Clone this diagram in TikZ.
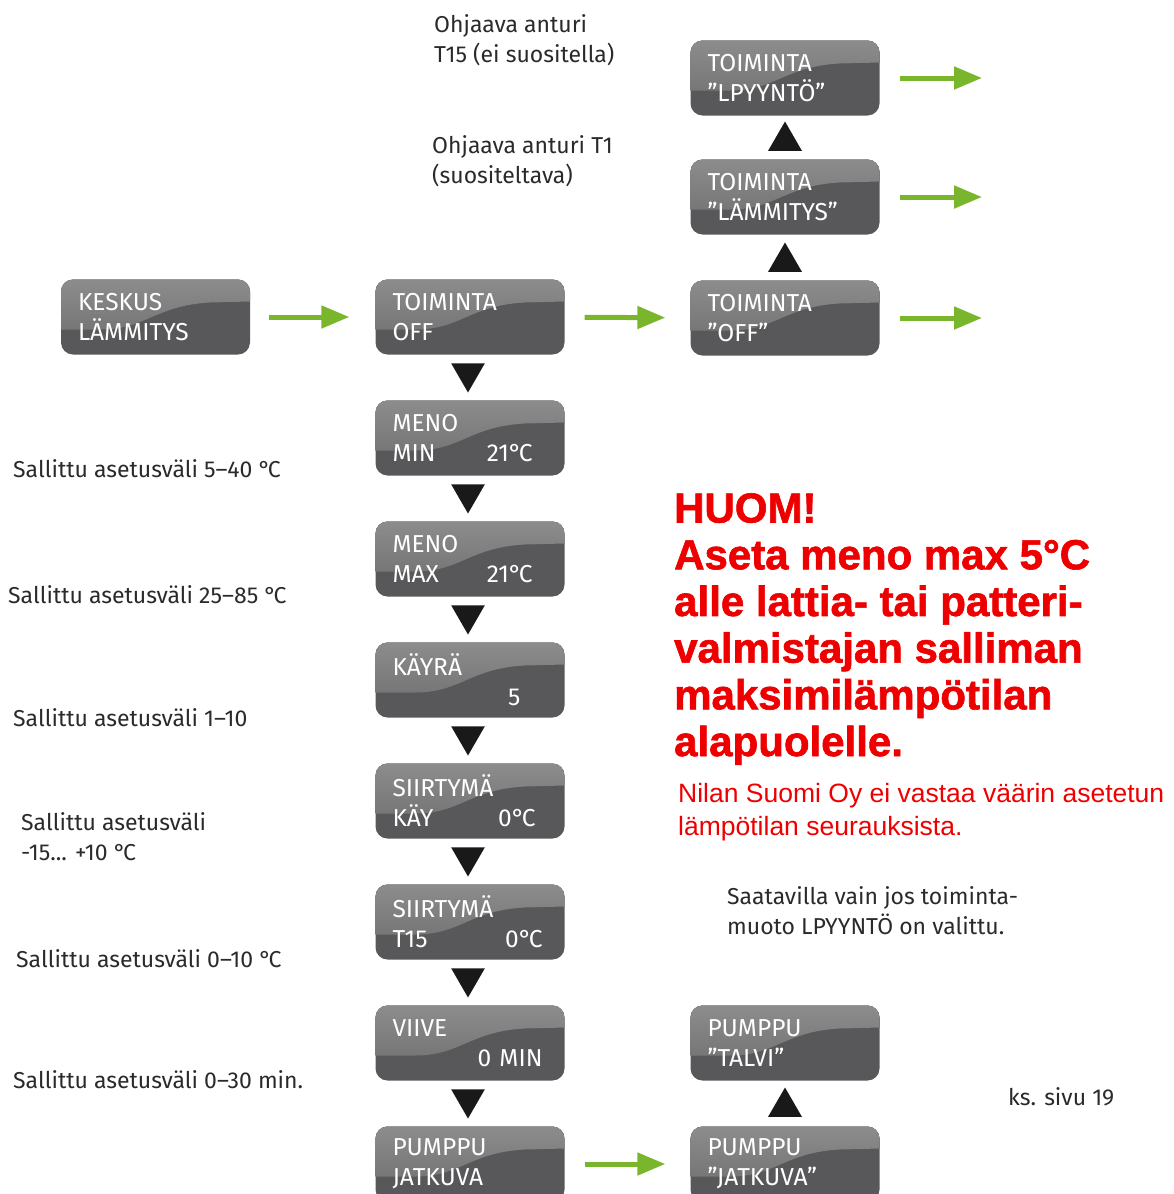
\documentclass[tikz,border=0pt]{standalone}
\usepackage{fontspec}
\IfFontExistsTF{FiraSans-Light.otf}{\setmainfont{FiraSans-Light.otf}}{\setmainfont{Fira Sans}}
\newfontfamily\arialfont{Liberation Sans}
\newfontfamily\heavyfont{Liberation Sans}[UprightFeatures={FakeBold=1.5}, BoldFeatures={FakeBold=1.5}]
\usetikzlibrary{arrows.meta,shapes.geometric}
\definecolor{panellight}{HTML}{8C8C8C}
\definecolor{panelmid}{HTML}{6C6C6D}
\definecolor{paneldark}{HTML}{58585A}
\definecolor{arrowgreen}{HTML}{7AB62B}
\definecolor{warnred}{HTML}{EE0000}
\definecolor{textgray}{HTML}{2A2A2A}
\newcommand{\dgc}{°\kern-0.12em C}
\tikzstyle{panel}=[rounded corners=12pt, fill=paneldark, minimum width=189pt, minimum height=75pt,
  inner xsep=17pt, inner ysep=2pt, text width=155pt, align=left, text=white,
  font=\fontsize{24.5}{30}\selectfont,
  path picture={\fill[sharp corners, top color=panellight, bottom color=panelmid]
    (path picture bounding box.north west) -- (path picture bounding box.north east)
    -- ([yshift=-22pt]path picture bounding box.north east)
    -- ([xshift=-40pt,yshift=-23pt]path picture bounding box.north east)
    .. controls ([xshift=-95pt,yshift=-26pt]path picture bounding box.north east)
    and ([xshift=85pt,yshift=-50pt]path picture bounding box.north west)
    .. ([xshift=40pt,yshift=-50pt]path picture bounding box.north west)
    -- ([yshift=-50pt]path picture bounding box.north west) -- cycle;}]
\tikzstyle{tridown}=[regular polygon, regular polygon sides=3, shape border rotate=180, fill=black!90, inner sep=0pt, minimum size=39pt]
\tikzstyle{triup}=[regular polygon, regular polygon sides=3, fill=black!90, inner sep=0pt, minimum size=39pt]
\tikzstyle{greenarrow}=[-{Triangle[length=28pt,width=22pt]}, line width=5pt, color=arrowgreen]
\tikzstyle{infotext}=[anchor=west, inner sep=0pt, align=left, text=textgray, font=\fontsize{23}{30}\selectfont]

\begin{document}
\begin{tikzpicture}[x=1pt, y=-1pt]
		   \useasboundingbox (0,0) rectangle (1173,1194);
		   \begin{scope}
			   % boxes
			   \node (keskus) at (155.5, 317) [panel] {KESKUS\\LÄMMITYS};
			   \node (toim) at (470, 317) [panel] {TOIMINTA\\OFF};
			   \node (off) at (785, 318) [panel] {TOIMINTA\\”OFF”};
			   \node (lamm) at (785, 197) [panel] {TOIMINTA\\”LÄMMITYS”};
			   \node (lpyy) at (785, 78) [panel] {TOIMINTA\\”LPYYNTÖ”};
			   \node (menomin) at (470, 438) [panel] {MENO\\MIN\hfill 21\dgc\hspace*{15pt}};
			   \node (menomax) at (470, 559) [panel] {MENO\\MAX\hfill 21\dgc\hspace*{15pt}};
			   \node (kayra) at (470, 680) [panel] {KÄYRÄ\\\hfill 5\hspace*{27pt}};
			   \node (skay) at (470, 801) [panel] {SIIRTYMÄ\\KÄY\hfill 0\dgc\hspace*{12pt}};
			   \node (st15) at (470, 922) [panel] {SIIRTYMÄ\\T15\hfill 0\dgc\hspace*{5pt}};
			   \node (viive) at (470, 1043) [panel] {VIIVE\\\hfill 0 MIN\hspace*{5pt}};
			   \node (pjat) at (470, 1164) [panel] {PUMPPU\\JATKUVA};
			   \node (ptalvi) at (785, 1043) [panel] {PUMPPU\\”TALVI”};
			   \node (pjat2) at (785, 1164) [panel] {PUMPPU\\”JATKUVA”};

			   % triangles
			   \node (t1) at (468, 373) [tridown] {};
			   \node (t2) at (468, 494) [tridown] {};
			   \node (t3) at (468, 615) [tridown] {};
			   \node (t4) at (468, 736) [tridown] {};
			   \node (t5) at (468, 857) [tridown] {};
			   \node (t6) at (468, 978) [tridown] {};
			   \node (t7) at (468, 1099) [tridown] {};
			   \node (u1) at (785, 141) [triup] {};
			   \node (u2) at (785, 262) [triup] {};
			   \node (u3) at (785, 1107) [triup] {};

			   % texts
			   \node (anturi15) at (434, 40) [infotext] {Ohjaava anturi\\T15 (ei suositella)};
			   \node (anturi1) at (432, 161) [infotext] {Ohjaava anturi T1\\(suositeltava)};
			   \node (s1) at (13, 469) [infotext] {Sallittu asetusväli 5–40 \dgc};
			   \node (s2) at (8, 595) [infotext] {Sallittu asetusväli 25–85 \dgc};
			   \node (s3) at (13, 718) [infotext] {Sallittu asetusväli 1–10};
			   \node (s4) at (21, 837) [infotext] {Sallittu asetusväli\\-15... +10 \dgc};
			   \node (s5) at (16, 959) [infotext] {Sallittu asetusväli 0–10 \dgc};
			   \node (s6) at (13, 1080) [infotext] {Sallittu asetusväli 0–30 min.};
			   \node (saat) at (727, 911) [infotext] {Saatavilla vain jos toiminta-\\muoto LPYYNTÖ on valittu.};
			   \node (sivu) at (1008, 1097) [infotext] {ks. sivu 19};
			   \node (huom) at (674, 629) [anchor=west, inner sep=0pt, align=left, text=warnred,
			     font=\heavyfont\bfseries\fontsize{42}{46.7}\selectfont]
			     {HUOM!\\Aseta meno max 5°C\\alle lattia- tai patteri-\\valmistajan salliman\\maksimilämpötilan\\alapuolelle.};
			   \node (nilan) at (678, 812) [anchor=west, inner sep=0pt, align=left, text=warnred,
			     font=\arialfont\fontsize{26.5}{33}\selectfont]
			     {Nilan Suomi Oy ei vastaa väärin asetetun\\lämpötilan seurauksista.};

			   \coordinate (o1) at (982, 78);
			   \coordinate (o2) at (982, 197);
			   \coordinate (o3) at (982, 318);
		   \end{scope}
		   \begin{scope}
			   \path [greenarrow, shorten <=19pt, shorten >=26pt] (keskus) edge (toim);
			   \path [greenarrow, shorten <=20pt, shorten >=25pt] (toim) edge (off);
			   \path [greenarrow, shorten <=20pt, shorten >=25pt] (pjat) edge (pjat2);
			   \path [greenarrow, shorten <=20pt] (lpyy) edge (o1);
			   \path [greenarrow, shorten <=20pt] (lamm) edge (o2);
			   \path [greenarrow, shorten <=20pt] (off) edge (o3);
		   \end{scope}
	   \end{tikzpicture}
\end{document}
